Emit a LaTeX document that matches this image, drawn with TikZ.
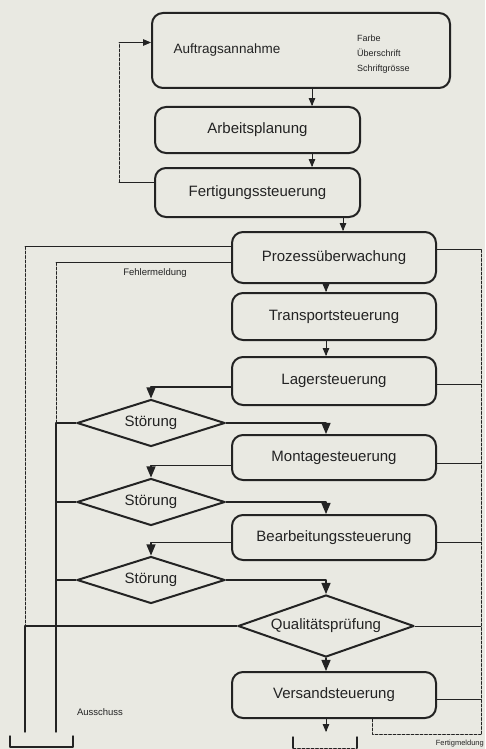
\documentclass[tikz,border=0pt]{standalone}
\usepackage{fontspec}
\setmainfont{Liberation Sans}
\usetikzlibrary{arrows}
\usetikzlibrary{shapes.geometric}
\definecolor{papier}{RGB}{233,233,226}
\definecolor{tinte}{RGB}{35,35,35}

\begin{document}
\begin{tikzpicture}[line cap=round,line join=round,>=triangle 45,x=1pt,y=-1pt,
	kasten/.style={draw=tinte,line width=2pt,rounded corners=11pt,minimum width=204pt,minimum height=47pt,inner sep=0pt,font=\fontsize{15}{17}\selectfont,text=tinte},
	raute/.style={draw=tinte,line width=2pt,diamond,aspect=3,inner sep=0pt,minimum width=148pt,minimum height=47pt,font=\fontsize{15}{17}\selectfont,text=tinte},
	schrift/.style={font=\fontsize{13.5}{16}\selectfont,text=tinte,inner sep=0pt},
	klein/.style={font=\fontsize{9.5}{15}\selectfont,text=tinte,inner sep=0pt},
	fluss/.style={draw=tinte,line width=1.6pt},
	mittel/.style={draw=tinte,line width=1.4pt},
	duenn/.style={draw=tinte,line width=0.8pt},
	strich/.style={draw=tinte,line width=0.8pt,dash pattern=on 3pt off 1.5pt}]
		\fill[papier] (0,0) rectangle (485,749);
		\useasboundingbox (0,0) rectangle (485,749);
		\coordinate (spalteA) at (312,0);
		\coordinate (spalteB) at (343,0);
		\coordinate (aussen) at (25,0);
		\coordinate (innen) at (56,0);
		\coordinate (rechts) at (481,0);
		\coordinate (rueck) at (119,0);
		\coordinate (boden) at (0,732);
		\coordinate (meldeweg) at (0,734);
		\node[kasten,minimum width=298pt,minimum height=75pt] (auftrag) at (301,50.5) {};
		\node[schrift] (auftragtext) at (227,50) {Auftragsannahme};
		\node[klein,anchor=west,align=left,font=\fontsize{9}{15}\selectfont] (merkmale) at (357,54) {Farbe\\Überschrift\\Schriftgrösse};
		\node[kasten,minimum width=205pt,minimum height=46pt] (arbeit) at (257.5,130) {Arbeitsplanung};
		\node[kasten,minimum width=205pt,minimum height=49pt] (fertig) at (257.5,192.5) {Fertigungssteuerung};
		\node[kasten,minimum height=51pt] (prozess) at (334,257.5) {Prozessüberwachung};
		\node[kasten] (transport) at (334,316.5) {Transportsteuerung};
		\node[kasten,minimum height=48pt] (lager) at (334,381) {Lagersteuerung};
		\node[raute] (stoerung1) at (151,423) {Störung};
		\node[kasten,minimum height=45pt] (montage) at (334,457.5) {Montagesteuerung};
		\node[raute] (stoerung2) at (151,502) {Störung};
		\node[kasten,minimum height=45pt] (bearbeitung) at (334,537.5) {Bearbeitungssteuerung};
		\node[raute] (stoerung3) at (151,580) {Störung};
		\node[raute,minimum width=176pt,minimum height=62pt] (qualitaet) at (326,626) {Qualitätsprüfung};
		\node[kasten,minimum height=46pt] (versand) at (334,695) {Versandsteuerung};
		\node[klein] (fehlermeldung) at (155,273) {Fehlermeldung};
		\node[klein] (ausschuss) at (100,712) {Ausschuss};
		\node[klein,anchor=east,font=\fontsize{7.5}{9}\selectfont] (fertigmeldung) at (484,744) {Fertigmeldung};
		\draw[duenn,->] (auftrag.south -| spalteA) -- (arbeit.north -| spalteA);
		\draw[duenn,->] (arbeit.south -| spalteA) -- (fertig.north -| spalteA);
		\draw[duenn,->] (fertig.south -| spalteB) -- (prozess.north -| spalteB);
		\draw[duenn,->] (prozess.south -| qualitaet.north) -- (transport.north -| qualitaet.north);
		\draw[duenn,->] (transport.south -| qualitaet.north) -- (lager.north -| qualitaet.north);
		\coordinate (fertigaus) at ([yshift=10pt]fertig.west);
		\coordinate (auftragein) at ([yshift=8pt]auftrag.west);
		\draw[duenn] (fertigaus) -- (fertigaus -| rueck);
		\draw[strich] (fertigaus -| rueck) -- (auftragein -| rueck);
		\draw[duenn,->] (auftragein -| rueck) -- (auftragein);
		\draw[fluss,->] ([yshift=-6pt]lager.west) -| (stoerung1.north);
		\draw[fluss,->] (stoerung1.east) -| (montage.north -| qualitaet.north);
		\draw[fluss,->] ([yshift=-8pt]montage.west) -| (stoerung2.north);
		\draw[fluss,->] (stoerung2.east) -| (bearbeitung.north -| qualitaet.north);
		\draw[fluss,->] ([yshift=-5pt]bearbeitung.west) -| (stoerung3.north);
		\draw[fluss,->] (stoerung3.east) -| (qualitaet.north);
		\draw[fluss,->] (qualitaet.south) -- (versand.north -| qualitaet.south);
		\draw[duenn,->] (versand.south -| qualitaet.south) -- (qualitaet.south |- boden);
		\draw[fluss] (stoerung1.west) -- (stoerung1.west -| innen);
		\draw[fluss] (stoerung2.west) -- (stoerung2.west -| innen);
		\draw[fluss] (stoerung3.west) -- (stoerung3.west -| innen);
		\coordinate (prozessinnen) at ([yshift=-5pt]prozess.west);
		\coordinate (prozessaussen) at ([yshift=11pt]prozess.west);
		\coordinate (prozessrechts) at ([yshift=8pt]prozess.east);
		\draw[duenn] (prozessinnen) -- (prozessinnen -| innen);
		\draw[strich] (prozessinnen -| innen) -- (stoerung1.west -| innen);
		\draw[mittel] (stoerung1.west -| innen) -- (innen |- boden);
		\draw[duenn] (prozessaussen) -- (prozessaussen -| aussen);
		\draw[strich] (prozessaussen -| aussen) -- (qualitaet.west -| aussen);
		\draw[mittel] (qualitaet.west) -- (qualitaet.west -| aussen) -- (aussen |- boden);
		\draw[duenn] (prozessrechts) -- (prozessrechts -| rechts);
		\draw[strich] (prozessrechts -| rechts) -- (rechts |- meldeweg);
		\foreach \n/\v in {lager/-3,montage/-6,bearbeitung/-5,qualitaet/0,versand/-4}
			\draw[duenn] ([yshift=\v pt]\n.east) -- ([yshift=\v pt]\n.east -| rechts);
		\coordinate (versandunten) at ([xshift=38pt]versand.south);
		\draw[strich] (versandunten) -- (versandunten |- meldeweg) -- (rechts |- meldeweg);
		\coordinate (tonneAl) at (10,736);
		\coordinate (tonneAr) at (73,736);
		\draw[mittel] (tonneAl) -- ++(0,11) -| (tonneAr);
		\coordinate (tonneBl) at (293,737);
		\coordinate (tonneBr) at (357,737);
		\draw[mittel] (tonneBl) -- ++(0,11);
		\draw[mittel] (tonneBr) -- ++(0,11);
		\draw[strich] ([yshift=-11pt]tonneBl) -- ([yshift=-11pt]tonneBr);
\end{tikzpicture}
\end{document}
